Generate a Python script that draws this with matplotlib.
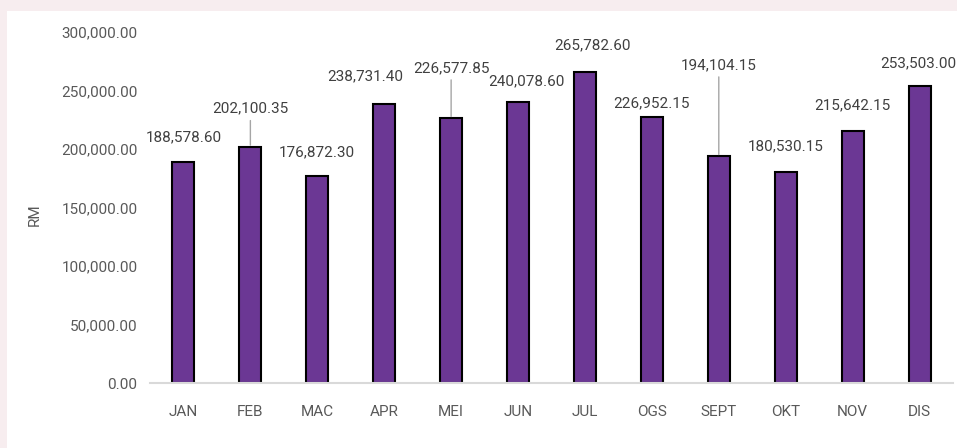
import matplotlib.pyplot as plt
from matplotlib.patches import Rectangle

# Monthly values (RM)
months = ['JAN', 'FEB', 'MAC', 'APR', 'MEI', 'JUN',
          'JUL', 'OGS', 'SEPT', 'OKT', 'NOV', 'DIS']
values = [188578.60, 202100.35, 176872.30, 238731.40, 226577.85, 240078.60,
          265782.60, 226952.15, 194104.15, 180530.15, 215642.15, 253503.00]
y_ticks = [0, 50000, 100000, 150000, 200000, 250000, 300000]

# label offsets from top of bar (pixels) and whether a leader line is drawn
label_dx = [0, 0, 0, -19, 0, 8, 8, 0, 0, 0, 0, -1]
label_dy = [25, 38, 24, 27, 50, 21, 27, 14, 91, 25, 25, 23]
leader = [False, True, False, False, True, False,
          False, False, True, False, False, False]

plt.rcParams['font.family'] = ['Roboto', 'DejaVu Sans']

fig = plt.figure(figsize=(9.57, 4.48), dpi=100)
fig.patch.set_facecolor('#f7edef')
fig.patches.append(Rectangle((7 / 957, 0), 1, 1 - 11 / 448,
                             transform=fig.transFigure,
                             facecolor='white', edgecolor='none', zorder=-5))

ax = fig.add_axes([150 / 957, 65 / 448, 803 / 957, 351 / 448])
ax.set_facecolor('none')
ax.set_zorder(2)

x = list(range(len(months)))
ax.bar(x, values, width=0.33, color='#6b3794', edgecolor='black',
       linewidth=1.5, zorder=3)

for i, v in enumerate(values):
    ax.annotate('{:,.2f}'.format(v), xy=(i, v),
                xytext=(label_dx[i], label_dy[i]), textcoords='offset pixels',
                ha='center', va='center', fontsize=11, color='#404040',
                annotation_clip=False)
    if leader[i]:
        ax.annotate('', xy=(i, v), xytext=(0, label_dy[i] - 12),
                    textcoords='offset pixels',
                    arrowprops=dict(arrowstyle='-', color='#a6a6a6', lw=1,
                                    shrinkA=0, shrinkB=1))

ax.set_xlim(-0.5, 11.5)
ax.set_ylim(0, 300000)
ax.set_xticks(x)
ax.set_xticklabels(months)
ax.set_yticks(y_ticks)
ax.set_yticklabels(['{:,.2f}'.format(t) for t in y_ticks])

for s in ['top', 'right', 'left']:
    ax.spines[s].set_visible(False)
ax.spines['bottom'].set_color('#d9d9d9')
ax.spines['bottom'].set_linewidth(1.5)
ax.spines['bottom'].set_zorder(4)

ax.tick_params(axis='x', length=0, pad=16, labelsize=11, labelcolor='#595959')
ax.tick_params(axis='y', length=0, pad=9, labelsize=11, labelcolor='#595959')

fig.text(35 / 957, 1 - 215 / 448, 'RM', rotation=90, ha='center',
         va='center', fontsize=11, color='#595959', zorder=5)

fig.savefig('out.png', dpi=100, facecolor=fig.get_facecolor())
